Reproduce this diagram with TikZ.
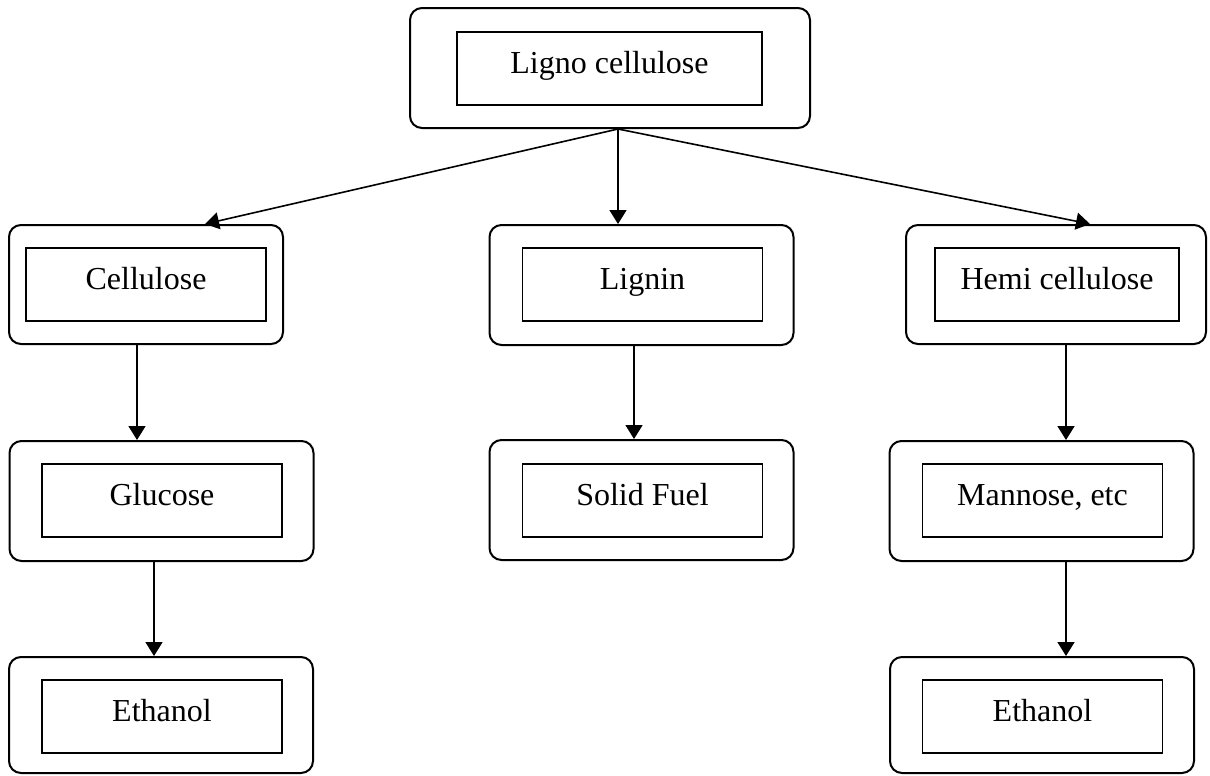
\documentclass[tikz,border=0pt]{standalone}
\usepackage{fontspec}
\setmainfont{Liberation Serif}
\usepackage{tikz}
\usetikzlibrary{arrows.meta,shapes}
\tikzstyle{outer} = [rectangle, rounded corners=6pt, minimum width=152pt, minimum height=60pt, draw=black, line width=1pt]
\tikzstyle{inner} = [rectangle, minimum width=120pt, minimum height=36.5pt, inner sep=0pt, text centered, text height=10.6pt, text depth=6pt, draw=black, line width=0.75pt, font=\fontsize{16}{19}\selectfont]
\tikzstyle{arrow} = [line width=0.8pt,-{Triangle[length=7pt,width=8.5pt]}]

\begin{document}
\begin{tikzpicture}[x=0.5pt,y=-0.5pt]
\useasboundingbox (0,0) rectangle (1210,776);
% outer rounded frames
\node (topO)  [outer, minimum width=200pt] at (610,68) {};
\node (cellO) [outer, minimum width=137pt, minimum height=59.5pt] at (146,284.5) {};
\node (lignO) [outer] at (641.5,285) {};
\node (hemiO) [outer, minimum width=150pt, minimum height=59.5pt] at (1056,284.5) {};
\node (glucO) [outer] at (161.5,501) {};
\node (fuelO) [outer] at (641.5,500) {};
\node (mannO) [outer] at (1041.5,501) {};
\node (ethaO) [outer, minimum height=58pt] at (161,715) {};
\node (ethbO) [outer, minimum height=58pt] at (1042,715) {};

% inner boxes with text
\node (top)  [inner, minimum width=152.5pt] at (609.5,68.5) {Ligno cellulose};
\node (cell) [inner] at (146,284.5) {Cellulose};
\node (lign) [inner] at (642.5,284.5) {Lignin};
\node (hemi) [inner, minimum width=122pt] at (1057,284.5) {Hemi cellulose};
\node (gluc) [inner] at (162,500.5) {Glucose};
\node (fuel) [inner] at (642.5,500.5) {Solid Fuel};
\node (mann) [inner] at (1042.5,500.5) {Mannose, etc};
\node (etha) [inner] at (162,716.5) {Ethanol};
\node (ethb) [inner] at (1042.5,716.5) {Ethanol};

\draw [arrow] ([xshift=4pt]topO.south) -- ([xshift=29.5pt]cellO.north);
\draw [arrow] ([xshift=4pt]topO.south) -- ([xshift=-11.75pt]lignO.north);
\draw [arrow] ([xshift=4pt]topO.south) -- ([xshift=17pt]hemiO.north);
\draw [arrow] ([xshift=-4.5pt]cellO.south) -- ([xshift=-12.25pt]glucO.north);
\draw [arrow] ([xshift=-3.75pt]lignO.south) -- ([xshift=-3.75pt]fuelO.north);
\draw [arrow] ([xshift=5pt]hemiO.south) -- ([xshift=12.25pt]mannO.north);
\draw [arrow] ([xshift=-3.75pt]glucO.south) -- ([xshift=-3.5pt]ethaO.north);
\draw [arrow] ([xshift=12.25pt]mannO.south) -- ([xshift=12pt]ethbO.north);
\end{tikzpicture}
\end{document}
